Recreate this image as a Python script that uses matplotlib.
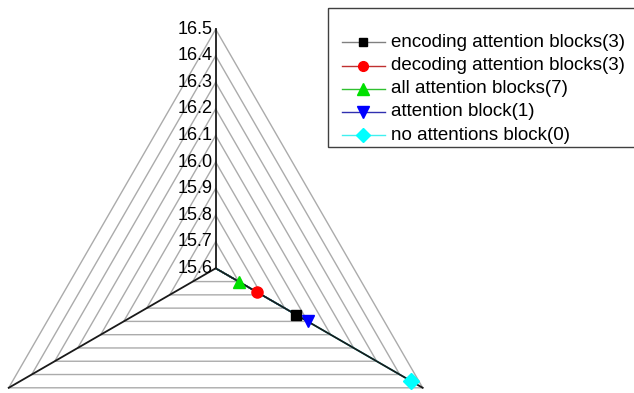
import numpy as np
import matplotlib.pyplot as plt
from matplotlib.patches import Rectangle

plt.rcParams['font.family'] = ['Liberation Sans', 'DejaVu Sans']

# radial scale shared by the three axes
levels = [15.6, 15.7, 15.8, 15.9, 16.0, 16.1, 16.2, 16.3, 16.4, 16.5]
level_labels = ['15.6', '15.7', '15.8', '15.9', '16.0', '16.1', '16.2', '16.3', '16.4', '16.5']
axis_angles = [90, 210, 330]  # top, bottom-left, bottom-right

# each series: values on (top, bottom-left, bottom-right)
names = ['encoding attention blocks(3)', 'decoding attention blocks(3)',
         'all attention blocks(7)', 'attention block(1)', 'no attentions block(0)']
values = [
    [15.6, 15.6, 15.95],
    [15.6, 15.6, 15.78],
    [15.6, 15.6, 15.70],
    [15.6, 15.6, 16.00],
    [15.6, 15.6, 16.45],
]
marker_colors = ['black', 'red', '#00e000', '#0000ff', 'cyan']
line_colors = ['#808080', '#c03030', '#30c030', '#3030b0', '#40f0f0']
markers = ['s', 'o', '^', 'v', 'D']
marker_sizes = [7, 8, 9, 9, 8]

vmin, vmax = levels[0], levels[-1]


def to_xy(vals):
    r = (np.asarray(vals) - vmin) / (vmax - vmin)
    th = np.radians(axis_angles)
    return r * np.cos(th), r * np.sin(th)


W, H = 634, 393
cx, cy, R = 215.7, 268.3, 239.0

fig = plt.figure(figsize=(W / 100, H / 100), dpi=100)
ax = fig.add_axes([0, 0, 1, 1])
ax.set_xlim(-cx / R, (W - cx) / R)
ax.set_ylim(-(H - cy) / R, cy / R)
ax.axis('off')

# triangular grid rings
for lv in levels[1:]:
    x, y = to_xy([lv] * 3)
    ax.plot(np.append(x, x[0]), np.append(y, y[0]), color='#ababab', lw=1.0, zorder=1)

# series lines
for vals, lc in zip(values, line_colors):
    x, y = to_xy(vals)
    ax.plot(np.append(x, x[0]), np.append(y, y[0]), color=lc, lw=1.0, zorder=2)

# spokes
ox, oy = to_xy([vmax] * 3)
for x, y in zip(ox, oy):
    ax.plot([0, x], [0, y], color='#1a1a1a', lw=1.3, zorder=3)

# markers where the series leaves the centre
for vals, mc, mk, ms in zip(values, marker_colors, markers, marker_sizes):
    x, y = to_xy(vals)
    keep = np.asarray(vals) > vmin
    ax.plot(x[keep], y[keep], linestyle='none', marker=mk, ms=ms,
            color=mc, markeredgecolor=mc, zorder=4)

# level labels along the top axis
for lv, lab in zip(levels, level_labels):
    r = (lv - vmin) / (vmax - vmin)
    ax.text(-3.0 / R, r, lab, ha='right', va='center', fontsize=13, zorder=5)

# legend drawn in pixel coordinates
lax = fig.add_axes([0, 0, 1, 1], facecolor='none')
lax.set_xlim(0, W)
lax.set_ylim(H, 0)
lax.axis('off')
lax.add_patch(Rectangle((327.5, 8.0), 320, 139, fill=False, ec='#404040', lw=1.0))
row_y = 42.3
for name, lc, mc, mk, ms in zip(names, line_colors, marker_colors, markers, marker_sizes):
    lax.plot([341.5, 385], [row_y, row_y], color=lc, lw=1.0)
    lax.plot([362.5], [row_y], linestyle='none', marker=mk, ms=ms - 1,
             color=mc, markeredgecolor=mc)
    lax.text(391, row_y, name, ha='left', va='center', fontsize=13.5)
    row_y += 23.2

fig.savefig('out.png', dpi=100)
